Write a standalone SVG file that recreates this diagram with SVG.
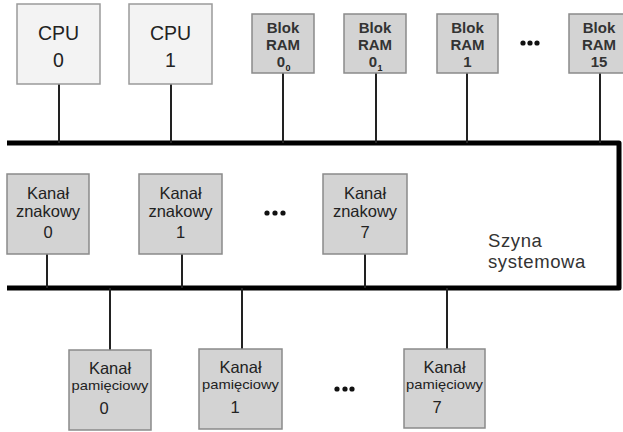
<svg xmlns="http://www.w3.org/2000/svg" width="623" height="432" viewBox="0 0 623 432">
<style>
.cpu{fill:#f3f3f3;stroke:#9a9a9a;stroke-width:1.5}
.box{fill:#d3d3d3;stroke:#8a8a8a;stroke-width:1.5}
.t{font-family:"Liberation Sans",Arial,sans-serif;fill:#222;text-anchor:middle}
.big{font-size:19.5px}
.ram{font-size:15px;font-weight:bold;fill:#333}
.ch{font-size:16.5px}
.sm{font-size:13px}
.link{stroke:#222;stroke-width:2;fill:none}
.bus{stroke:#000;stroke-width:5;fill:none;stroke-linejoin:round}
.dot{fill:#111}
.lbl{font-size:18.5px;letter-spacing:0.6px;text-anchor:start;fill:#333}
</style>
<g id="connectors">
<path class="bus" d="M7,143 H619 V288 H7"/>
<line class="link" x1="59" y1="84" x2="59" y2="143"/>
<line class="link" x1="171" y1="84" x2="171" y2="143"/>
<line class="link" x1="283" y1="73" x2="283" y2="143"/>
<line class="link" x1="376" y1="73" x2="376" y2="143"/>
<line class="link" x1="467" y1="73" x2="467" y2="143"/>
<line class="link" x1="600" y1="73" x2="600" y2="143"/>
<line class="link" x1="47" y1="254" x2="47" y2="288"/>
<line class="link" x1="182" y1="254" x2="182" y2="288"/>
<line class="link" x1="365" y1="254" x2="365" y2="288"/>
<line class="link" x1="110" y1="288" x2="110" y2="350"/>
<line class="link" x1="242" y1="288" x2="242" y2="350"/>
<line class="link" x1="447" y1="288" x2="447" y2="349"/>
</g>
<g id="cpu0"><rect class="cpu" x="17" y="4" width="83" height="80"/><text class="t big" x="58.5" y="40">CPU</text><text class="t big" x="58.5" y="67">0</text></g>
<g id="cpu1"><rect class="cpu" x="129" y="4" width="83" height="80"/><text class="t big" x="170.5" y="40">CPU</text><text class="t big" x="170.5" y="67">1</text></g>
<g id="ram00"><rect class="box" x="252" y="14" width="62" height="59"/><text class="t ram" x="283" y="33">Blok</text><text class="t ram" x="283" y="50">RAM</text><text class="t ram" x="281" y="67">0</text><text class="t" style="font-size:9px;font-weight:bold" x="288" y="71">0</text></g>
<g id="ram01"><rect class="box" x="344" y="14" width="62" height="59"/><text class="t ram" x="375" y="33">Blok</text><text class="t ram" x="375" y="50">RAM</text><text class="t ram" x="373" y="67">0</text><text class="t" style="font-size:9px;font-weight:bold" x="380" y="71">1</text></g>
<g id="ram1"><rect class="box" x="437" y="14" width="61" height="59"/><text class="t ram" x="467.5" y="33">Blok</text><text class="t ram" x="467.5" y="50">RAM</text><text class="t ram" x="467.5" y="67">1</text></g>
<g id="dots-ram"><circle class="dot" cx="523" cy="43" r="2.6"/><circle class="dot" cx="530" cy="43" r="2.6"/><circle class="dot" cx="537" cy="43" r="2.6"/></g>
<g id="ram15"><rect class="box" x="569" y="14" width="62" height="59"/><text class="t ram" x="599" y="33">Blok</text><text class="t ram" x="599" y="50">RAM</text><text class="t ram" x="599" y="67">15</text></g>
<g id="kz0"><rect class="box" x="7" y="174" width="82" height="80"/><text class="t ch" x="48" y="199">Kanał</text><text class="t ch" x="48" y="217">znakowy</text><text class="t ch" x="48" y="238">0</text></g>
<g id="kz1"><rect class="box" x="139" y="174" width="83" height="80"/><text class="t ch" x="180.5" y="199">Kanał</text><text class="t ch" x="180.5" y="217">znakowy</text><text class="t ch" x="180.5" y="238">1</text></g>
<g id="dots-kz"><circle class="dot" cx="267" cy="213" r="2.6"/><circle class="dot" cx="275" cy="213" r="2.6"/><circle class="dot" cx="283" cy="213" r="2.6"/></g>
<g id="kz7"><rect class="box" x="323" y="174" width="84" height="80"/><text class="t ch" x="365" y="199">Kanał</text><text class="t ch" x="365" y="217">znakowy</text><text class="t ch" x="365" y="238">7</text></g>
<g id="bus-label"><text class="t lbl" x="488" y="247">Szyna</text><text class="t lbl" x="488" y="268">systemowa</text></g>
<g id="kp0"><rect class="box" x="69" y="350" width="82" height="80"/><text class="t ch" x="110" y="374">Kanał</text><text class="t sm" x="110" y="390" textLength="77" lengthAdjust="spacingAndGlyphs">pamięciowy</text><text class="t ch" x="104" y="414">0</text></g>
<g id="kp1"><rect class="box" x="199" y="349" width="83" height="80"/><text class="t ch" x="240.5" y="373">Kanał</text><text class="t sm" x="240.5" y="389" textLength="77" lengthAdjust="spacingAndGlyphs">pamięciowy</text><text class="t ch" x="235" y="413">1</text></g>
<g id="dots-kp"><circle class="dot" cx="337" cy="389" r="2.6"/><circle class="dot" cx="345" cy="389" r="2.6"/><circle class="dot" cx="352" cy="389" r="2.6"/></g>
<g id="kp7"><rect class="box" x="404" y="349" width="81" height="79"/><text class="t ch" x="444.5" y="373">Kanał</text><text class="t sm" x="444.5" y="389" textLength="77" lengthAdjust="spacingAndGlyphs">pamięciowy</text><text class="t ch" x="437" y="413">7</text></g>
</svg>
